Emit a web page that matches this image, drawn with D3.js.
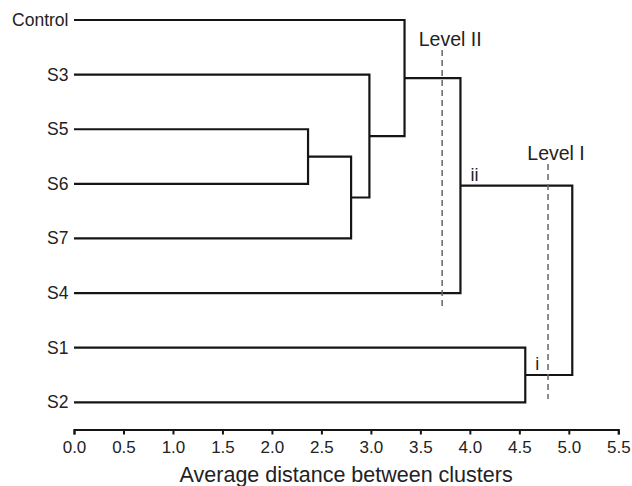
<!DOCTYPE html>
<html>
<head>
<meta charset="utf-8">
<script src="https://cdn.jsdelivr.net/npm/d3@7"></script>
<style>
  body { margin: 0; background: #fff; }
  text { font-family: "Liberation Sans", Arial, sans-serif; fill: #222; }
</style>
</head>
<body>
<script>
// leaves, top to bottom
const leafLabels = ["Control", "S3", "S5", "S6", "S7", "S4", "S1", "S2"]
// merges: [left child, right child, height]; children are leaf names or merge ids "m0".."m6"
const mergeLeft   = ["S5", "m0", "S3", "Control", "m3", "S1", "m4"]
const mergeRight  = ["S6", "S7", "m1", "m2",      "S4", "S2", "m5"]
const mergeHeight = [2.365, 2.80, 2.985, 3.34, 3.905, 4.56, 5.035]
const nodeMarks   = ["", "", "", "", "ii", "i", ""]
// cut levels
const cutLabels = ["Level II", "Level I"]
const cutValues = [3.72, 4.79]
const xTicks = [0, 0.5, 1, 1.5, 2, 2.5, 3, 3.5, 4, 4.5, 5, 5.5]

const width = 632, height = 486
const svg = d3.select("body").append("svg").attr("width", width).attr("height", height)

const x = d3.scaleLinear().domain([0, 5.5]).range([74, 618.3])
const y = d3.scalePoint().domain(leafLabels).range([20, 402.3])

// positions of each node
const pos = {}
leafLabels.forEach(function (d) { pos[d] = { x: x(0), y: y(d) } })
const links = []
mergeHeight.forEach(function (h, i) {
    const a = pos[mergeLeft[i]], b = pos[mergeRight[i]]
    const hx = x(h)
    pos["m" + i] = { x: hx, y: (a.y + b.y) / 2 }
    links.push([[a.x, a.y], [hx, a.y], [hx, b.y], [b.x, b.y]])
})

const line = d3.line()
svg.selectAll("path.link").data(links).enter()
    .append("path")
    .attr("class", "link")
    .attr("d", line)
    .attr("fill", "none")
    .attr("stroke", "#151515")
    .attr("stroke-width", 2.2)

// leaf labels
svg.selectAll("text.leaf").data(leafLabels).enter()
    .append("text")
    .attr("class", "leaf")
    .attr("x", x(0) - 5.5)
    .attr("y", function (d) { return y(d) + 6 })
    .attr("text-anchor", "end")
    .style("font-size", "17.5px")
    .text(function (d) { return d })

// node marks (i, ii)
svg.selectAll("text.mark").data(mergeHeight.map(function (h, i) { return i }).filter(function (i) { return nodeMarks[i] })).enter()
    .append("text")
    .attr("class", "mark")
    .attr("x", function (i) { return x(mergeHeight[i]) + 10 })
    .attr("y", function (i) { return pos["m" + i].y - 5 })
    .style("font-size", "18px")
    .text(function (i) { return nodeMarks[i] })

// cut lines
const cutTop = [50, 164], cutBottom = [310, 399]
svg.selectAll("line.cut").data(cutValues).enter()
    .append("line")
    .attr("class", "cut")
    .attr("x1", function (d) { return x(d) }).attr("x2", function (d) { return x(d) })
    .attr("y1", function (d, i) { return cutTop[i] })
    .attr("y2", function (d, i) { return cutBottom[i] })
    .attr("stroke", "#666")
    .attr("stroke-width", 1.5)
    .attr("stroke-dasharray", "6,4")

svg.selectAll("text.cut").data(cutValues).enter()
    .append("text")
    .attr("class", "cut")
    .attr("x", function (d) { return x(d) + 8 })
    .attr("y", function (d, i) { return cutTop[i] - 4 })
    .attr("text-anchor", "middle")
    .style("font-size", "19.5px")
    .text(function (d, i) { return cutLabels[i] })

// x axis
const axis = svg.append("g")
    .attr("transform", "translate(0,429.5)")
    .call(d3.axisBottom(x).tickValues(xTicks).tickFormat(d3.format(".1f")).tickSizeOuter(5).tickSizeInner(5).tickPadding(6))
axis.select(".domain").attr("stroke", "#151515").attr("stroke-width", 2)
axis.selectAll(".tick line").attr("stroke", "#151515").attr("stroke-width", 2)
axis.selectAll(".tick text").style("font-size", "17px").style("font-family", "Liberation Sans, Arial, sans-serif").attr("fill", "#222")

svg.append("text")
    .attr("x", (x(0) + x(5.5)) / 2)
    .attr("y", 482)
    .attr("text-anchor", "middle")
    .style("font-size", "21.5px")
    .text("Average distance between clusters")
</script>
</body>
</html>
